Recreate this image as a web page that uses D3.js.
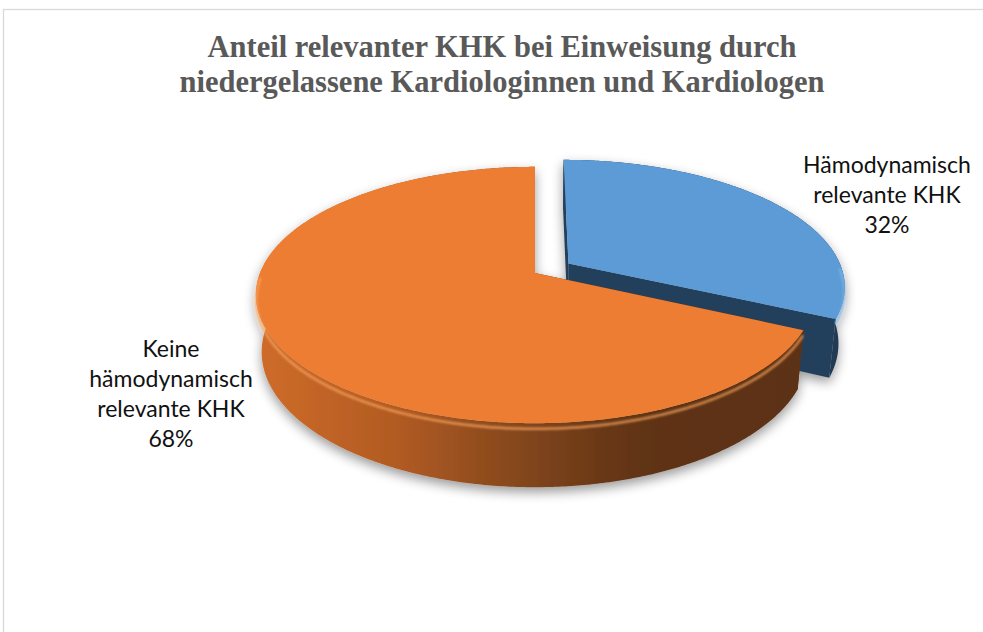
<!DOCTYPE html>
<html>
<head>
<meta charset="utf-8">
<script src="https://cdn.jsdelivr.net/npm/d3@7"></script>
<style>
  html, body { margin: 0; padding: 0; background: #fff; }
  svg { display: block; }
</style>
</head>
<body>
<div id="chart"></div>
<script>
!function(){

  // data
  const categories = ["Hämodynamisch relevante KHK", "Keine hämodynamisch relevante KHK"];
  const values = [32, 68];
  const labelLines = [
    ["Hämodynamisch", "relevante KHK"],
    ["Keine", "hämodynamisch", "relevante KHK"]
  ];
  const titleLines = [
    "Anteil relevanter KHK bei Einweisung durch",
    "niedergelassene Kardiologinnen und Kardiologen"
  ];
  const explode = [0.146, 0];

  const width = 983, height = 632;

  // colours per slice: top, cut face, rim highlight
  const topColor = ["#5b9bd5", "#ed7d31"];
  const cutColor = ["#243f5b", "#6a3817"];
  const rimColor = ["#7fb4e6", "#fba65f"];

  // 3d projection of the pie (unit radius disc, y up)
  const cx = 535, cy = 273;
  const tilt = 26.9 * Math.PI / 180;
  const dist = 5.19, focal = 1427, thick = 0.234;
  const sinT = Math.sin(tilt), cosT = Math.cos(tilt);

  function project(X, Y, Z) {
    var yc = Z * sinT - Y * cosT;
    var zc = dist - Z * cosT - Y * sinT;
    return [cx + focal * X / zc, cy + focal * yc / zc];
  }

  var svg = d3.select("#chart").append("svg")
    .attr("width", width)
    .attr("height", height);

  var defs = svg.append("defs");

  var shadow = defs.append("filter")
    .attr("id", "shadow")
    .attr("x", "-20%").attr("y", "-20%")
    .attr("width", "140%").attr("height", "160%");
  shadow.append("feGaussianBlur").attr("in", "SourceAlpha").attr("stdDeviation", 6);
  shadow.append("feOffset").attr("dx", 0).attr("dy", 5).attr("result", "off");
  shadow.append("feComponentTransfer").append("feFuncA").attr("type", "linear").attr("slope", 0.4);
  var merge = shadow.append("feMerge");
  merge.append("feMergeNode");
  merge.append("feMergeNode").attr("in", "SourceGraphic");

  var soft = defs.append("filter").attr("id", "soft");
  soft.append("feGaussianBlur").attr("stdDeviation", 1.2);

  var orangeSide = defs.append("linearGradient")
    .attr("id", "side1")
    .attr("gradientUnits", "userSpaceOnUse")
    .attr("x1", 256).attr("y1", 0).attr("x2", 815).attr("y2", 0);
  [[0, "#cf6c2a"], [0.26, "#b05a22"], [0.44, "#8a4a1e"], [0.62, "#693817"], [0.72, "#5e3314"], [1, "#5c3113"]]
    .forEach(function(s) {
      orangeSide.append("stop").attr("offset", s[0]).attr("stop-color", s[1]);
    });

  var blueSide = defs.append("linearGradient")
    .attr("id", "side0")
    .attr("gradientUnits", "userSpaceOnUse")
    .attr("x1", 560).attr("y1", 0).attr("x2", 850).attr("y2", 0);
  [[0, "#25415d"], [1, "#203a53"]].forEach(function(s) {
    blueSide.append("stop").attr("offset", s[0]).attr("stop-color", s[1]);
  });

  // frame
  svg.append("rect")
    .attr("x", 3.5).attr("y", 9.5)
    .attr("width", 1000).attr("height", 700)
    .attr("fill", "none")
    .attr("stroke", "#d9d9d9")
    .attr("stroke-width", 1.3);

  // title
  svg.append("text")
    .attr("x", 502)
    .attr("y", 57)
    .attr("text-anchor", "middle")
    .style("font-family", "'Liberation Serif', 'Times New Roman', serif")
    .style("font-weight", "bold")
    .style("font-size", "30.5px")
    .style("fill", "#595959")
    .selectAll("tspan")
    .data(titleLines)
    .enter().append("tspan")
    .attr("x", 502)
    .attr("dy", function(d, i) { return i ? 35 : 0; })
    .text(function(d) { return d; });

  var pie = d3.pie().sort(null).value(function(d) { return d; });
  var arcs = pie(values);

  var line = d3.line();

  function rimPoints(a0, a1, Y, ox, oz) {
    var n = Math.max(2, Math.ceil((a1 - a0) / 0.01));
    return d3.range(n + 1).map(function(i) {
      var a = a0 + (a1 - a0) * i / n;
      return project(ox + Math.sin(a), Y, oz - Math.cos(a));
    });
  }

  var pieG = svg.append("g").attr("filter", "url(#shadow)");

  // back slices first
  var order = arcs.map(function(d, i) { return i; }).sort(function(a, b) {
    var ma = (arcs[a].startAngle + arcs[a].endAngle) / 2;
    var mb = (arcs[b].startAngle + arcs[b].endAngle) / 2;
    return (-Math.cos(ma)) - (-Math.cos(mb));
  });

  order.forEach(function(i) {
    var d = arcs[i];
    var mid = (d.startAngle + d.endAngle) / 2;
    var ox = explode[i] * Math.sin(mid), oz = -explode[i] * Math.cos(mid);
    var g = pieG.append("g").attr("class", "slice");

    // radial cut faces
    [d.startAngle, d.endAngle].forEach(function(a) {
      var pts = [
        project(ox, 0, oz),
        project(ox + Math.sin(a), 0, oz - Math.cos(a)),
        project(ox + Math.sin(a), -thick, oz - Math.cos(a)),
        project(ox, -thick, oz)
      ];
      g.append("path")
        .attr("d", line(pts) + "Z")
        .attr("fill", cutColor[i]);
    });

    // outer side
    var topRim = rimPoints(d.startAngle, d.endAngle, 0, ox, oz);
    var botRim = rimPoints(d.startAngle, d.endAngle, -thick, ox, oz).reverse();
    g.append("path")
      .attr("d", line(topRim.concat(botRim)) + "Z")
      .attr("fill", "url(#side" + i + ")");

    // top face
    g.append("path")
      .attr("d", line([project(ox, 0, oz)].concat(topRim)) + "Z")
      .attr("fill", topColor[i]);

    // bevel highlight on the front rim
    var f0 = Math.max(d.startAngle, Math.PI / 2), f1 = Math.min(d.endAngle, Math.PI * 1.5);
    if (f1 > f0) {
      g.append("path")
        .attr("d", line(rimPoints(f0, f1, -0.02, ox, oz)))
        .attr("fill", "none")
        .attr("stroke", rimColor[i])
        .attr("stroke-width", 2.5)
        .attr("stroke-opacity", 0.75)
        .attr("filter", "url(#soft)");
    }
  });

  // data labels
  var labelPos = [[887, 173], [171, 357]];
  var labels = svg.selectAll("text.label")
    .data(arcs)
    .enter().append("text")
    .attr("class", "label")
    .attr("text-anchor", "middle")
    .style("font-family", "Lato, 'Open Sans', sans-serif")
    .style("font-size", "23px")
    .style("fill", "#111");

  labels.selectAll("tspan")
    .data(function(d, i) {
      var total = d3.sum(values);
      return labelLines[i].concat([Math.round(d.value / total * 100) + "%"])
        .map(function(t) { return {t: t, i: i}; });
    })
    .enter().append("tspan")
    .attr("x", function(d) { return labelPos[d.i][0]; })
    .attr("y", function(d, j) { return labelPos[d.i][1] + j * 30; })
    .text(function(d) { return d.t; });

}();
</script>
</body>
</html>
